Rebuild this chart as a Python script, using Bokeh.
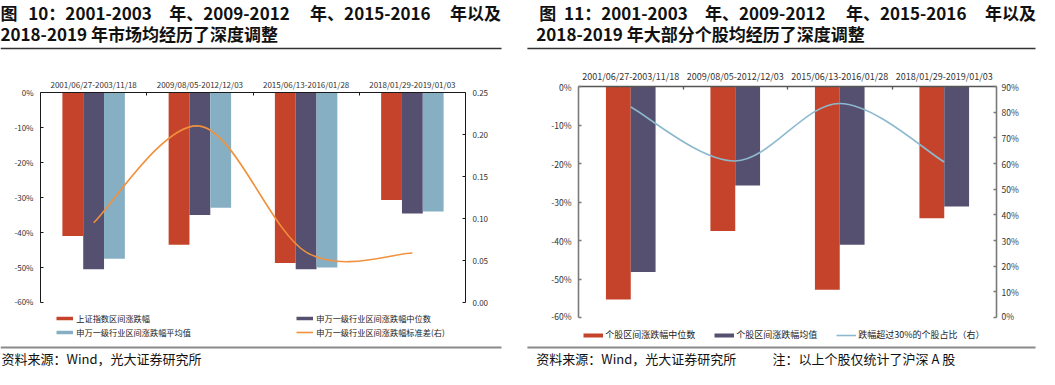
from bokeh.plotting import figure
from bokeh.models import (Range1d, LinearAxis, FixedTicker, PrintfTickFormatter,
                          Legend, LegendItem, ColumnDataSource)
from bokeh.transform import dodge
from bokeh.layouts import row, column
from bokeh.core.properties import value
from bokeh.embed import file_html
from bokeh.resources import INLINE

FONT = "Noto Sans CJK SC"

# ---------------- data ----------------
periods = ["2001/06/27-2003/11/18", "2009/08/05-2012/12/03",
           "2015/06/13-2016/01/28", "2018/01/29-2019/01/03"]

# figure 10 (percent)
sh_index_chg = [-41.0, -43.5, -48.7, -30.7]
sw_median_chg = [-50.5, -35.0, -50.5, -34.6]
sw_mean_chg = [-47.5, -32.9, -50.0, -34.0]
sw_std = [0.095, 0.210, 0.060, 0.059]

# figure 11 (percent)
stock_median_chg = [-55.3, -37.5, -52.8, -34.2]
stock_mean_chg = [-48.2, -25.7, -41.1, -31.2]
share_drop_over30 = [82.0, 61.0, 83.4, 60.6]

pct_ticks = [-60, -50, -40, -30, -20, -10, 0]
std_ticks = [0.0, 0.05, 0.10, 0.15, 0.20, 0.25]
share_ticks = [0, 10, 20, 30, 40, 50, 60, 70, 80, 90]

title10 = ["图", "10：2001-2003", "年、2009-2012", "年、2015-2016", "年以及"]
title10_2 = "2018-2019 年市场均经历了深度调整"
title11 = ["图", "11：2001-2003", "年、2009-2012", "年、2015-2016", "年以及"]
title11_2 = "2018-2019 年大部分个股均经历了深度调整"
source_text = "资料来源：Wind，光大证券研究所"
note_text = "注：以上个股仅统计了沪深 A 股"

leg10 = ["上证指数区间涨跌幅", "申万一级行业区间涨跌幅中位数",
         "申万一级行业区间涨跌幅平均值", "申万一级行业区间涨跌幅标准差(右)"]
leg11 = ["个股区间涨跌幅中位数", "个股区间涨跌幅均值", "跌幅超过30%的个股占比（右）"]

RED = "#C5432A"
PURPLE = "#55506F"
LBLUE = "#87AFC4"
ORANGE = "#F0913D"
LINEBLUE = "#8DB9CE"

NAN = float("nan")

# category slot centres on a numeric axis (slot i spans i..i+1)
pos = [i + 0.5 for i in range(len(periods))]


def smooth_segments(xs, ys):
    n = len(xs)
    seg = dict(x0=[], y0=[], x1=[], y1=[], cx0=[], cy0=[], cx1=[], cy1=[])
    for i in range(n - 1):
        xp, yp = (xs[i - 1], ys[i - 1]) if i > 0 else (xs[i], ys[i])
        xn, yn = (xs[i + 2], ys[i + 2]) if i + 2 < n else (xs[i + 1], ys[i + 1])
        seg["x0"].append(xs[i]); seg["y0"].append(ys[i])
        seg["x1"].append(xs[i + 1]); seg["y1"].append(ys[i + 1])
        seg["cx0"].append(xs[i] + (xs[i + 1] - xp) / 6.0)
        seg["cy0"].append(ys[i] + (ys[i + 1] - yp) / 6.0)
        seg["cx1"].append(xs[i + 1] - (xn - xs[i]) / 6.0)
        seg["cy1"].append(ys[i + 1] - (yn - ys[i]) / 6.0)
    return seg


def blank_fig(w, h):
    p = figure(width=w, height=h, x_range=Range1d(0, w), y_range=Range1d(h, 0),
               min_border=0, min_border_left=0, min_border_right=0,
               min_border_top=0, min_border_bottom=0, frame_align=False,
               toolbar_location=None, output_backend="svg",
               x_axis_location=None, y_axis_location=None, outline_line_color=None)
    p.grid.visible = False
    return p


def header(w, segs, segx, line2, line2x, rx0, rx1):
    p = blank_fig(w, 52)
    p.text(x=segx, y=[11.5] * len(segs), text=segs, text_font=value(FONT),
           text_font_size="17px", text_font_style="bold", text_color="#111111",
           text_baseline="middle", text_align="left")
    p.text(x=[line2x], y=[33], text=[line2], text_font=value(FONT),
           text_font_size="17px", text_font_style="bold", text_color="#111111",
           text_baseline="middle", text_align="left")
    p.segment(x0=[rx0], y0=[48], x1=[rx1], y1=[48], line_color="#333333", line_width=1.3)
    return p


def footer(w, texts, tx, rx0, rx1):
    p = blank_fig(w, 26)
    p.segment(x0=[rx0], y0=[5], x1=[rx1], y1=[5], line_color="#8a8a8a", line_width=1.8)
    p.text(x=tx, y=[16] * len(texts), text=texts, text_font=value(FONT),
           text_font_size="13px", text_color="#111111",
           text_baseline="middle", text_align="left")
    return p


def legend_fig(w, h, labels, styles, loc, ncols, glyph_w, standoff, spacing, label_w, fs):
    p = blank_fig(w, h)
    # legend proxies: one undefined (NaN) point each, so nothing is drawn in the plot area
    rs = [p.line(x=[NAN], y=[NAN], line_color=c, line_width=lw) for c, lw in styles]
    leg = Legend(items=[LegendItem(label=l, renderers=[r]) for l, r in zip(labels, rs)],
                 location=loc, orientation="horizontal", ncols=ncols,
                 glyph_width=glyph_w, glyph_height=12, label_height=12, label_width=label_w,
                 label_standoff=standoff, spacing=spacing, padding=0, margin=0,
                 border_line_color=None, background_fill_alpha=0,
                 label_text_font=FONT, label_text_font_size=fs, label_text_color="#222222")
    p.add_layout(leg)
    return p


def style_axis(ax, color, lw, fs, standoff):
    ax.axis_line_color = color
    ax.axis_line_width = lw
    ax.major_tick_line_color = color
    ax.major_tick_line_width = lw
    ax.major_tick_in = 3
    ax.major_tick_out = 0
    ax.minor_tick_line_color = None
    ax.major_label_text_font = FONT
    ax.major_label_text_font_size = fs
    ax.major_label_text_color = "#333333"
    ax.major_label_standoff = standoff


def top_axis(p, color, lw, fs, standoff):
    ax = LinearAxis(ticker=FixedTicker(ticks=pos, minor_ticks=list(range(1, len(periods)))),
                    major_label_overrides={x: lab for x, lab in zip(pos, periods)})
    style_axis(ax, color, lw, fs, standoff)
    ax.major_tick_line_color = None
    ax.major_tick_in = 0
    ax.minor_tick_line_color = color
    ax.minor_tick_line_width = lw
    ax.minor_tick_in = 3
    ax.minor_tick_out = 0
    p.add_layout(ax, "above")


# ---------------- figure 10 ----------------
src10 = ColumnDataSource(dict(pos=pos, sh=sh_index_chg, med=sw_median_chg, mean=sw_mean_chg))
p1 = figure(width=518, height=254, x_range=Range1d(0, len(periods)), y_range=Range1d(-60, 0),
            toolbar_location=None, output_backend="svg", x_axis_location=None, y_axis_location=None,
            min_border_left=40, min_border_right=53, min_border_top=40, min_border_bottom=4,
            frame_align=False, outline_line_color=None)
p1.grid.visible = False
p1.extra_y_ranges = {"r": Range1d(0, 0.25)}
bw = 0.196
p1.vbar(x=dodge("pos", -bw), top="sh", bottom=0, width=bw,
        source=src10, fill_color=RED, line_color=None)
p1.vbar(x=dodge("pos", 0), top="med", bottom=0, width=bw,
        source=src10, fill_color=PURPLE, line_color=None)
p1.vbar(x=dodge("pos", bw), top="mean", bottom=0, width=bw,
        source=src10, fill_color=LBLUE, line_color=None)
seg10 = ColumnDataSource(smooth_segments(pos, sw_std))
p1.bezier(x0="x0", y0="y0", x1="x1", y1="y1", cx0="cx0", cy0="cy0", cx1="cx1", cy1="cy1",
          source=seg10, y_range_name="r", line_color=ORANGE, line_width=1.6)

ax = LinearAxis(ticker=FixedTicker(ticks=pct_ticks), formatter=PrintfTickFormatter(format="%d%%"))
style_axis(ax, "#1a1a1a", 1, "8px", 7)
p1.add_layout(ax, "left")
ax = LinearAxis(y_range_name="r", ticker=FixedTicker(ticks=std_ticks),
                formatter=PrintfTickFormatter(format="%.2f"))
style_axis(ax, "#1a1a1a", 1, "8px", 7)
p1.add_layout(ax, "right")
top_axis(p1, "#1a1a1a", 1, "8px", 3)

l1 = legend_fig(518, 36, leg10, [(RED, 3.5), (PURPLE, 3.5), (LBLUE, 3.5), (ORANGE, 1.6)],
                (56.3, 4), 2, 17, 3, 2, 218, "8.2px")

# ---------------- figure 11 ----------------
src11 = ColumnDataSource(dict(pos=pos, med=stock_median_chg, mean=stock_mean_chg))
p2 = figure(width=520, height=269, x_range=Range1d(0, len(periods)), y_range=Range1d(-60, 0),
            toolbar_location=None, output_backend="svg", x_axis_location=None, y_axis_location=None,
            min_border_left=60, min_border_right=42, min_border_top=34, min_border_bottom=4,
            frame_align=False, outline_line_color=None)
p2.grid.visible = False
p2.extra_y_ranges = {"r": Range1d(0, 90)}
bw2 = 0.2375
p2.vbar(x=dodge("pos", -bw2 / 2), top="med", bottom=0, width=bw2,
        source=src11, fill_color=RED, line_color=None)
p2.vbar(x=dodge("pos", bw2 / 2), top="mean", bottom=0, width=bw2,
        source=src11, fill_color=PURPLE, line_color=None)
seg11 = ColumnDataSource(smooth_segments(pos, share_drop_over30))
p2.bezier(x0="x0", y0="y0", x1="x1", y1="y1", cx0="cx0", cy0="cy0", cx1="cx1", cy1="cy1",
          source=seg11, y_range_name="r", line_color=LINEBLUE, line_width=1.6)

ax = LinearAxis(ticker=FixedTicker(ticks=pct_ticks), formatter=PrintfTickFormatter(format="%d%%"))
style_axis(ax, "#7a7a7a", 1.6, "8.5px", 7)
p2.add_layout(ax, "left")
ax = LinearAxis(y_range_name="r", ticker=FixedTicker(ticks=share_ticks),
                formatter=PrintfTickFormatter(format="%d%%"))
style_axis(ax, "#7a7a7a", 1.6, "8.5px", 5)
p2.add_layout(ax, "right")
top_axis(p2, "#555555", 1.3, "9px", 4)

l2 = legend_fig(520, 21, leg11, [(RED, 4), (PURPLE, 4), (LINEBLUE, 1.6)],
                (65.2, 1), "auto", 20, 2, 19, 0, "9px")

# ---------------- layout ----------------
h1 = header(518, title10, [0, 27.8, 168.7, 309.6, 449.5], title10_2, 0, 0, 501)
f1 = footer(518, [source_text], [1], 0, 501)
h2 = header(520, title11, [20.8, 45.6, 186.5, 327.4, 466.5], title11_2, 17.8, 8.9, 517)
f2 = footer(520, [source_text, note_text], [17.8, 254], 8.9, 517)

page = row(column(h1, p1, l1, f1, spacing=0), column(h2, p2, l2, f2, spacing=0), spacing=0)

open("out.html", "w").write(file_html(page, INLINE))
